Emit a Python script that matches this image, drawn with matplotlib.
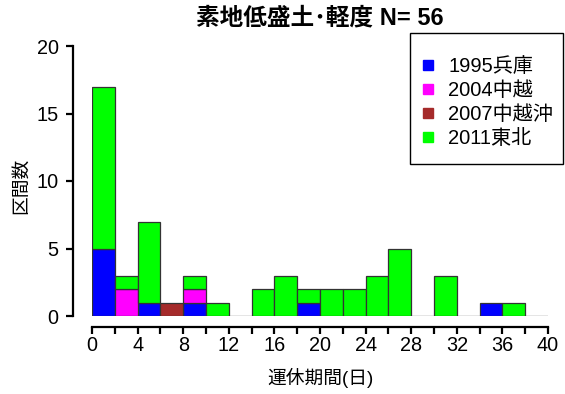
import matplotlib
matplotlib.use("Agg")
import matplotlib.pyplot as plt
import numpy as np
from matplotlib.lines import Line2D
from matplotlib.patches import Rectangle

plt.rcParams['font.family'] = ['Liberation Sans', 'Noto Sans CJK JP', 'DejaVu Sans']

# Data: stacked histogram, bin width 2 days, 0..40
bin_edges = list(range(0, 42, 2))
series_names = ["1995兵庫", "2004中越", "2007中越沖", "2011東北"]
colors = ["#0000FF", "#FF00FF", "#A52A2A", "#00FF00"]
hyogo_1995    = [5, 0, 1, 0, 1, 0, 0, 0, 0, 1, 0, 0, 0, 0, 0, 0, 0, 1, 0, 0]
chuetsu_2004  = [0, 2, 0, 0, 1, 0, 0, 0, 0, 0, 0, 0, 0, 0, 0, 0, 0, 0, 0, 0]
chuetsuoki_2007 = [0, 0, 0, 1, 0, 0, 0, 0, 0, 0, 0, 0, 0, 0, 0, 0, 0, 0, 0, 0]
tohoku_2011   = [12, 1, 6, 0, 1, 1, 0, 2, 3, 1, 2, 2, 3, 5, 0, 3, 0, 0, 1, 0]
series = [hyogo_1995, chuetsu_2004, chuetsuoki_2007, tohoku_2011]
title = "素地低盛土･軽度 N= 56"
xlabel = "運休期間(日)"
ylabel = "区間数"

W, H = 565, 394
fig = plt.figure(figsize=(W / 100, H / 100), dpi=100)
ax = fig.add_axes([92 / W, 1 - 316 / H, (548 - 92) / W, (316 - 46) / H])

left = np.array(bin_edges[:-1], dtype=float)
width = np.diff(bin_edges)
bottom = np.zeros(len(left))
for vals, c in zip(series, colors):
    v = np.array(vals, dtype=float)
    mask = v > 0
    ax.bar(left[mask], v[mask], width=width[mask], bottom=bottom[mask], align='edge',
           color=c, edgecolor='#333333', linewidth=0.9, zorder=2)
    bottom += v
# zero-height bins shown as baseline segments (R hist style)
ax.hlines(0, bin_edges[0], bin_edges[-1], color='#333333', linewidth=0.9, zorder=1)

ax.set_xlim(0, 40)
ax.set_ylim(0, 20)
for s in ['top', 'right']:
    ax.spines[s].set_visible(False)
ax.spines['left'].set_position(('outward', 14))
ax.spines['bottom'].set_position(('outward', 8))
ax.spines['left'].set_bounds(0, 20)
ax.spines['bottom'].set_bounds(0, 40)
ax.spines['left'].set_linewidth(1.6)
ax.spines['bottom'].set_linewidth(1.6)

ax.set_xticks(range(0, 41, 2))
ax.set_xticklabels([str(t) if t % 4 == 0 else "" for t in range(0, 41, 2)])
ax.set_yticks(range(0, 21, 5))
ax.tick_params(axis='both', length=5, width=1.6, labelsize=14.3, colors='black')
ax.tick_params(axis='y', pad=5)
ax.tick_params(axis='x', pad=1.5)

fig.text(320 / W, 1 - 18 / H, title, ha='center', va='center', fontsize=17, fontweight='bold')
fig.text(320 / W, 1 - 378 / H, xlabel, ha='center', va='center', fontsize=13.5)
fig.text(21 / W, 1 - 186 / H, ylabel, ha='center', va='center', fontsize=13.5, rotation=90)

handles = [Line2D([], [], marker='s', linestyle='none', markersize=7, color=c) for c in colors]
leg = fig.legend(handles, series_names, loc='upper left', bbox_to_anchor=(422 / W, 1 - 57 / H),
                 bbox_transform=fig.transFigure, fontsize=14.5, frameon=False,
                 borderaxespad=0, borderpad=0, labelspacing=0.25, handletextpad=0.7,
                 handlelength=0.6)
fig.add_artist(Rectangle((410 / W, 1 - 164 / H), (563 - 410) / W, (164 - 33) / H,
                         transform=fig.transFigure, fill=False, edgecolor='black', linewidth=1.0))

fig.savefig("out.png", dpi=100)
